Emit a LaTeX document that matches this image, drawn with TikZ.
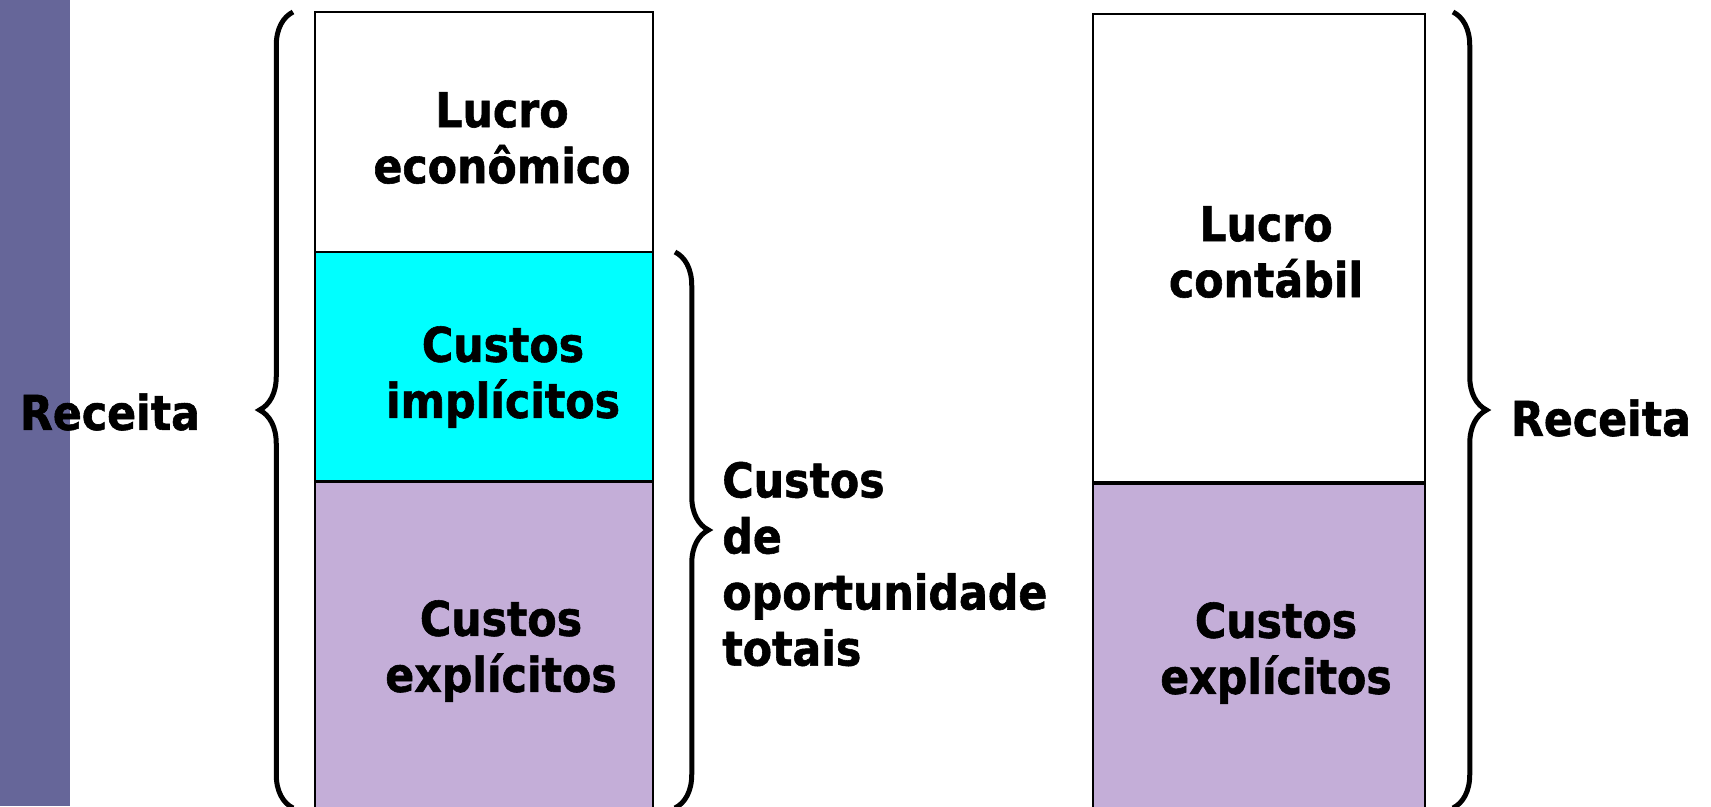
\documentclass[tikz,border=0pt]{standalone}
\usepackage{fontspec}
\setmainfont{DejaVu Sans}[FakeStretch=0.89, BoldFeatures={FakeStretch=0.89, FakeBold=1.2}]
\usetikzlibrary{decorations.pathreplacing}
\definecolor{barblue}{RGB}{102,102,153}
\definecolor{implcyan}{RGB}{0,255,255}
\definecolor{explilac}{RGB}{196,174,216}
\begin{document}
\begin{tikzpicture}[x=0.02cm, y=-0.02cm,
		lbl/.style={font=\bfseries\fontsize{27.3}{31.9}\selectfont, align=center, inner sep=0pt},
		bar/.style={draw=black, line width=0.04cm},
		curly/.style={decorate, decoration={brace, amplitude=0.67cm}, line width=0.1cm}]
		\useasboundingbox (0,0) rectangle (1711,806);
		\fill[barblue] (0,0) rectangle (70,806);
		\draw[bar, fill=white] (315,12) rectangle (653,252);
		\draw[bar, fill=implcyan] (315,252) rectangle (653,481);
		\draw[bar, fill=explilac] (315,482) rectangle (653,808);
		\draw[bar, fill=white] (1093,14) rectangle (1425,482);
		\draw[bar, fill=explilac] (1093,484) rectangle (1425,808);
		\draw[curly] (293,808) -- (293,12);
		\draw[curly] (675,252) -- (675,808);
		\draw[curly] (1453,12) -- (1453,808);
		\node (lucroeco) [lbl] at (502,138) {Lucro\\econômico};
		\node (implic) [lbl] at (503,377) {Custos\\implícitos};
		\node (explic) [lbl] at (501,651) {Custos\\explícitos};
		\node (lucrocont) [lbl] at (1266,252) {Lucro\\contábil};
		\node (explicb) [lbl] at (1276,653) {Custos\\explícitos};
		\node (receita) [lbl] at (110,412) {Receita};
		\node (receitab) [lbl] at (1601,418) {Receita};
		\node (oport) [lbl, align=left, anchor=west] at (722,564) {Custos\\de\\oportunidade\\totais};
	\end{tikzpicture}
\end{document}
